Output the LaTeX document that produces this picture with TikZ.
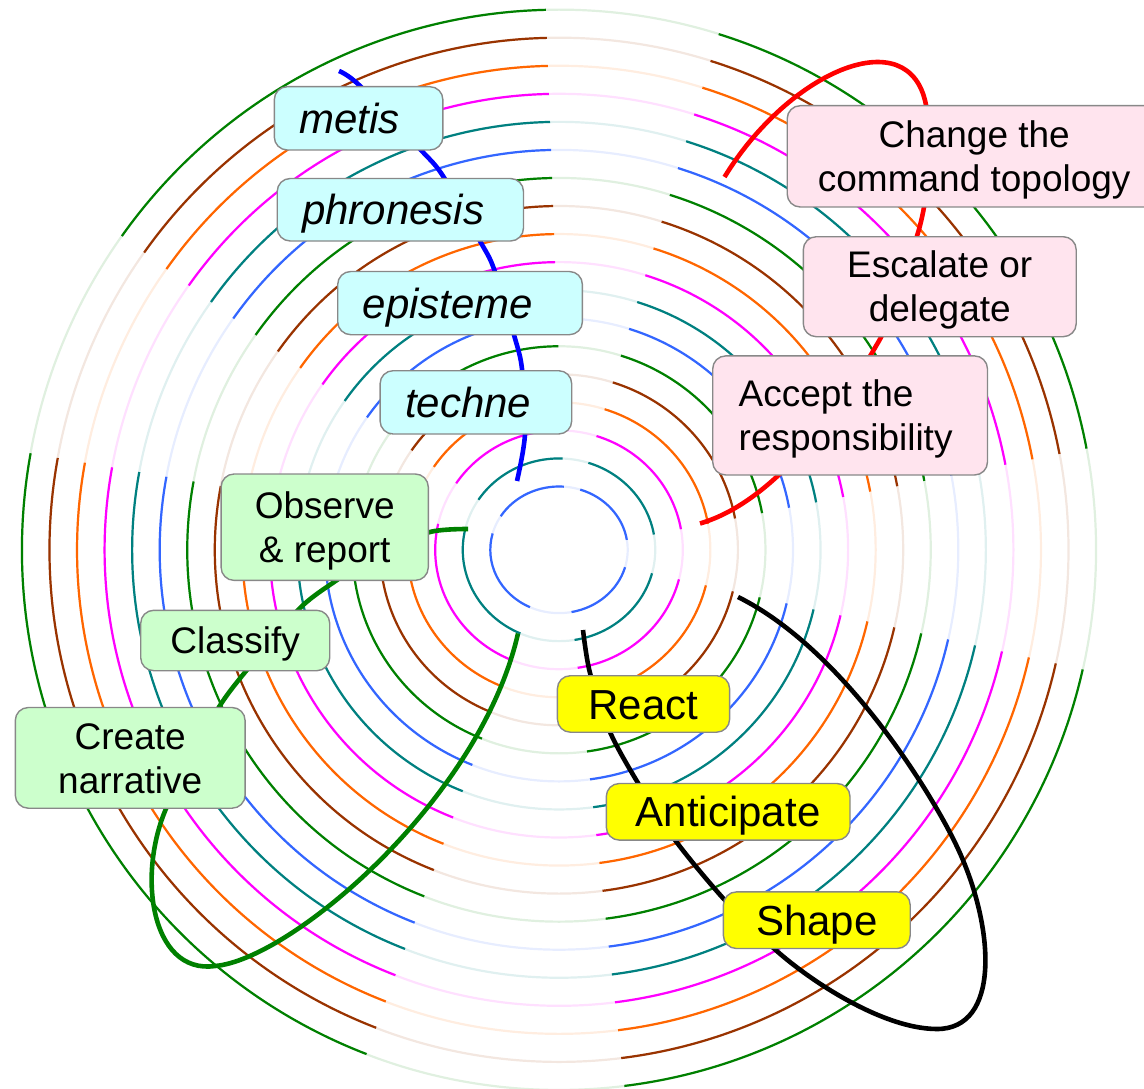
\documentclass[tikz,border=0pt]{standalone}
\usepackage{fontspec}
\setmainfont{Liberation Sans}

% ring colours
\definecolor{rblue}{HTML}{3366FF}
\definecolor{rteal}{HTML}{008080}
\definecolor{rmag}{HTML}{FF00FF}
\definecolor{rorange}{HTML}{FF6600}
\definecolor{rbrown}{HTML}{993300}
\definecolor{rgreen}{HTML}{008000}
% label colours
\definecolor{boxline}{HTML}{888888}
\definecolor{fcyan}{HTML}{CCFFFF}
\definecolor{fgreen}{HTML}{CCFFCC}
\definecolor{fpink}{HTML}{FFE4EE}
\definecolor{fyellow}{HTML}{FFFF00}

% two-line label texts (centred / flush left) and a flush-left single line
\newcommand\ctwo[2]{\vtop{\baselineskip=44pt\halign{\hfil##\hfil\cr#1\cr#2\cr}}}
\newcommand\ltwo[2]{\vtop{\baselineskip=44pt\halign{##\hfil\cr#1\cr#2\cr}}}
\newcommand\lone[2]{\hbox to #1{#2\hfil}}

\tikzset{
  ring/.style={line width=2.2pt},
  thread/.style={line width=4.6pt, line join=round},
  label box/.style={draw=boxline, line width=1.4pt, rounded corners=13pt,
    anchor=north west, inner ysep=0pt},
  small text/.style={font=\fontsize{37pt}{44pt}\selectfont, text height=26.5pt},
  big text/.style={font=\fontsize{42pt}{50pt}\selectfont, text height=30.1pt},
  one line/.style={text depth=0pt},
  two lines/.style={text depth=44pt},
}

\begin{document}
\begin{tikzpicture}[x=1pt, y=-1pt]
\useasboundingbox (0,0) rectangle (1144,1089);
\coordinate (O) at (559,549.8);

% concentric rings: pale full ring with saturated arcs between the sector boundaries
\foreach \k in {1,...,18} {
  \pgfmathsetmacro\rx{68.7+(\k-1)*27.55}
  \pgfmathsetmacro\ry{63.3+(\k-1)*28.05}
  \pgfmathsetmacro\rr{(\rx+\ry)/2}
  \pgfmathtruncatemacro\ci{mod(\k-1,6)}
  \ifcase\ci \def\col{rblue}\or \def\col{rteal}\or \def\col{rmag}\or
    \def\col{rorange}\or \def\col{rbrown}\or \def\col{rgreen}\fi
  \pgfmathsetmacro\Ba{347.65+asin(-4.2/\rr)}
  \pgfmathsetmacro\Bb{11.05+asin(-2.36/\rr)}
  \pgfmathsetmacro\Bc{72.8+asin(-0.92/\rr)}
  \pgfmathsetmacro\Bd{92.16+asin(-7.1/\rr)}
  \pgfmathsetmacro\Be{144.0+asin(4.6/\rr)}
  \pgfmathsetmacro\Bf{170.36+asin(-6.17/\rr)}
  \pgfmathsetmacro\Bg{249.56+asin(-5.25/\rr)}
  \pgfmathsetmacro\Bh{276.5+asin(4.6/\rr)}
  \draw[ring, draw=\col!12!white] (O) ellipse[x radius=\rx, y radius=\ry];
  \draw[ring, draw=\col] (O) ++({-\Bb}:{\rx} and {\ry})
    arc[start angle={-\Bb}, end angle={-\Bc}, x radius=\rx, y radius=\ry];
  \draw[ring, draw=\col] (O) ++({-\Bd}:{\rx} and {\ry})
    arc[start angle={-\Bd}, end angle={-\Be}, x radius=\rx, y radius=\ry];
  \draw[ring, draw=\col] (O) ++({-\Bf}:{\rx} and {\ry})
    arc[start angle={-\Bf}, end angle={-\Bg}, x radius=\rx, y radius=\ry];
  \draw[ring, draw=\col] (O) ++({-\Bh}:{\rx} and {\ry})
    arc[start angle={-\Bh}, end angle={-\Ba}, x radius=\rx, y radius=\ry];
}

% threads running behind the label boxes
\draw[thread, blue] plot[smooth] coordinates {(339,71) (359,85) (420,149) (443,176)
  (480,241) (494,269) (514,335) (522,369) (525,434) (517,481)};
\draw[thread, red] (724.5,177) .. controls (790,70) and (910,20) .. (926,105)
  .. controls (932,140) and (930,195) .. (917,236)
  .. controls (905,280) and (892,320) .. (876,346)
  .. controls (845,400) and (780,500) .. (700,523.5);
\draw[thread, rgreen] plot[smooth] coordinates {(468,529) (430,532) (380,552) (337,580)
  (299,609) (246,671) (219,707) (190,760) (170,800)};
\draw[thread, rgreen] (170,800) .. controls (135,870) and (150,975) .. (215,966)
  .. controls (290,960) and (480,800) .. (518,633.5);
\draw[thread, black] plot[smooth] coordinates {(583,630) (590,673) (610,732) (638,783)
  (675,840) (722,897) (765,940)};
\draw[thread, black] (765,940) .. controls (800,975) and (880,1029) .. (937,1029)
  .. controls (1000,1029) and (995,930) .. (959,851)
  .. controls (935,798) and (845,650) .. (738,597);

% knowledge labels
\node[label box, fill=fcyan, big text, one line, inner xsep=25pt,
  minimum width=168.6pt, minimum height=63.3pt] (metis) at (273.6,86)
  {\lone{118.6pt}{\itshape metis}};
\node[label box, fill=fcyan, big text, one line, inner xsep=25pt,
  minimum width=246.3pt, minimum height=62.5pt] (phronesis) at (276.5,177.8)
  {\lone{196.3pt}{\itshape phronesis}};
\node[label box, fill=fcyan, big text, one line, inner xsep=25pt,
  minimum width=244.7pt, minimum height=63.2pt] (episteme) at (337,270.8)
  {\lone{194.7pt}{\itshape episteme}};
\node[label box, fill=fcyan, big text, one line, inner xsep=25pt,
  minimum width=191.6pt, minimum height=63.3pt] (techne) at (379.4,370)
  {\lone{141.6pt}{\itshape techne}};

% sense-making labels
\node[label box, fill=fgreen, small text, two lines,
  minimum width=207.2pt, minimum height=106.4pt] (observe) at (220.4,473.3)
  {\ctwo{Observe}{\& report}};
\node[label box, fill=fgreen, small text, one line,
  minimum width=189pt, minimum height=60.4pt] (classify) at (140,609.6) {Classify};
\node[label box, fill=fgreen, small text, two lines,
  minimum width=229.8pt, minimum height=100.7pt] (narrative) at (14.6,706.8)
  {\ctwo{Create}{narrative}};

% command labels
\node[label box, fill=fpink, small text, two lines,
  minimum width=374pt, minimum height=101.3pt] (topology) at (786.5,105)
  {\ctwo{Change the}{command topology}};
\node[label box, fill=fpink, small text, two lines,
  minimum width=272.9pt, minimum height=100pt] (escalate) at (802.6,236)
  {\ctwo{Escalate or}{delegate}};
\node[label box, fill=fpink, small text, two lines, inner xsep=26pt,
  minimum width=274.8pt, minimum height=119.1pt] (accept) at (712,355.2)
  {\hbox to 222.8pt{\ltwo{Accept the}{responsibility}\hss}};

% action labels
\node[label box, fill=fyellow, big text, one line,
  minimum width=172.2pt, minimum height=56.5pt] (react) at (556.7,675) {React};
\node[label box, fill=fyellow, big text, one line,
  minimum width=243.7pt, minimum height=56.6pt] (anticipate) at (605.6,782.8) {Anticipate};
\node[label box, fill=fyellow, big text, one line,
  minimum width=186.8pt, minimum height=56.6pt] (shape) at (722.7,891.2) {Shape};
\end{tikzpicture}
\end{document}
